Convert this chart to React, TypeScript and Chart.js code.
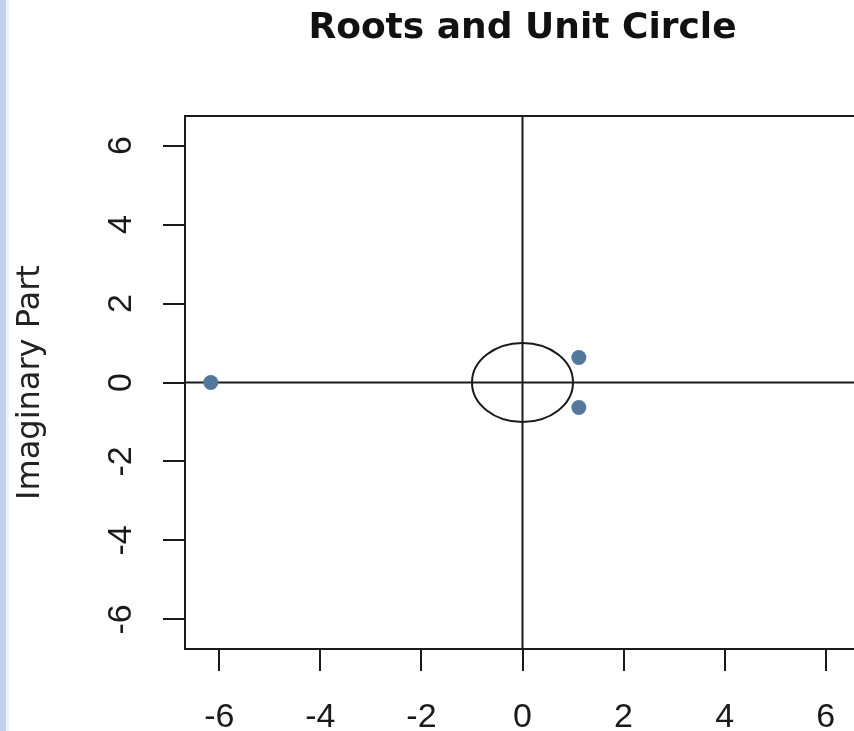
import React, { useEffect, useRef } from 'react';
import { Chart, registerables } from 'chart.js';

Chart.register(...registerables);

// ---- data ----
const rootReal = [-6.17, 1.115, 1.115];
const rootImag = [0, 0.633, -0.633];
const xTickValues = [-6, -4, -2, 0, 2, 4, 6];
const yTickValues = [-6, -4, -2, 0, 2, 4, 6];
const xLimits = [-6.68, 6.68];
const yLimits = [-6.75, 6.75];
const unitRadius = 1;
const chartTitle = 'Roots and Unit Circle';
const yAxisTitle = 'Imaginary Part';

const INK = '#1a1a1a';
const FONT = '"DejaVu Sans", "Liberation Sans", Arial, sans-serif';
const TICK_FONT = '"Liberation Sans", Arial, sans-serif';

const decorPlugin = {
  id: 'rDecor',
  beforeDatasetsDraw(chart: any) {
    const { ctx, chartArea: a, scales } = chart;
    const xs = scales.x;
    const ys = scales.y;
    const x0 = xs.getPixelForValue(0);
    const y0 = ys.getPixelForValue(0);
    ctx.save();
    ctx.beginPath();
    ctx.rect(a.left, a.top, a.right - a.left, a.bottom - a.top);
    ctx.clip();
    ctx.strokeStyle = INK;
    ctx.lineWidth = 2;
    // abline(h = 0, v = 0)
    ctx.beginPath();
    ctx.moveTo(a.left, y0);
    ctx.lineTo(a.right, y0);
    ctx.moveTo(x0, a.top);
    ctx.lineTo(x0, a.bottom);
    ctx.stroke();
    // unit circle via the scales
    const rx = Math.abs(xs.getPixelForValue(unitRadius) - x0);
    const ry = Math.abs(ys.getPixelForValue(unitRadius) - y0);
    ctx.lineWidth = 2;
    ctx.beginPath();
    ctx.ellipse(x0, y0, rx, ry, 0, 0, Math.PI * 2);
    ctx.stroke();
    ctx.restore();
    // plot frame
    ctx.save();
    ctx.strokeStyle = INK;
    ctx.lineWidth = 2;
    ctx.strokeRect(a.left, a.top, a.right - a.left, a.bottom - a.top);
    ctx.restore();
  },
  afterDraw(chart: any) {
    const { ctx, chartArea: a } = chart;
    ctx.save();
    ctx.fillStyle = '#111';
    ctx.font = 'bold 36px ' + FONT;
    ctx.textAlign = 'center';
    ctx.textBaseline = 'alphabetic';
    ctx.fillText(chartTitle, (a.left + a.right) / 2, 38);
    ctx.restore();
  },
};

export default function App() {
  const ref = useRef<HTMLCanvasElement | null>(null);

  useEffect(() => {
    if (!ref.current) return;
    const chart = new Chart(ref.current, {
      type: 'scatter',
      data: {
        datasets: [
          {
            data: rootReal.map((x, i) => ({ x, y: rootImag[i] })),
            backgroundColor: '#54779c',
            borderColor: '#54779c',
            pointRadius: 7.5,
            pointHoverRadius: 7.5,
            borderWidth: 0,
          },
        ],
      },
      options: {
        responsive: false,
        maintainAspectRatio: false,
        animation: false,
        events: [],
        layout: { padding: { top: 116, right: 10, left: 0, bottom: 0 } },
        plugins: {
          legend: { display: false },
          tooltip: { enabled: false },
          title: { display: false },
        },
        scales: {
          x: {
            type: 'linear',
            position: 'bottom',
            min: xLimits[0],
            max: xLimits[1],
            afterBuildTicks: (s: any) => {
              s.ticks = xTickValues.map((v) => ({ value: v }));
            },
            afterFit: (s: any) => {
              s.height = 82;
            },
            grid: { drawOnChartArea: false, drawTicks: true, tickLength: 22, color: INK, lineWidth: 2 },
            border: { display: false },
            ticks: {
              autoSkip: false,
              maxRotation: 0,
              minRotation: 0,
              padding: 26,
              color: INK,
              font: { family: TICK_FONT, size: 34 },
              callback: (v: any) => String(v),
            },
          },
          y: {
            type: 'linear',
            position: 'left',
            min: yLimits[0],
            max: yLimits[1],
            afterBuildTicks: (s: any) => {
              s.ticks = yTickValues.map((v) => ({ value: v }));
            },
            afterFit: (s: any) => {
              s.width = 185;
            },
            grid: { drawOnChartArea: false, drawTicks: true, tickLength: 22, color: INK, lineWidth: 2 },
            border: { display: false },
            ticks: {
              autoSkip: false,
              minRotation: 90,
              maxRotation: 90,
              crossAlign: 'center',
              padding: 26,
              color: INK,
              font: { family: TICK_FONT, size: 34 },
              callback: (v: any) => String(v),
            },
            title: {
              display: true,
              text: yAxisTitle,
              color: '#222',
              font: { family: FONT, size: 32 },
              padding: { top: 11, bottom: 0 },
            },
          },
        },
      },
      plugins: [decorPlugin],
    } as any);
    return () => chart.destroy();
  }, []);

  return (
    <div
      style={{
        position: 'fixed',
        left: 0,
        top: 0,
        width: 854,
        height: 731,
        overflow: 'hidden',
        background: '#ffffff',
      }}
    >
      <canvas ref={ref} width={870} height={731} style={{ display: 'block', width: 870, height: 731 }} />
      <div style={{ position: 'absolute', left: 0, top: 0, width: 6, height: 731, background: '#bfd0ea' }} />
      <div style={{ position: 'absolute', left: 6, top: 0, width: 3, height: 731, background: '#eef3fa' }} />
    </div>
  );
}
